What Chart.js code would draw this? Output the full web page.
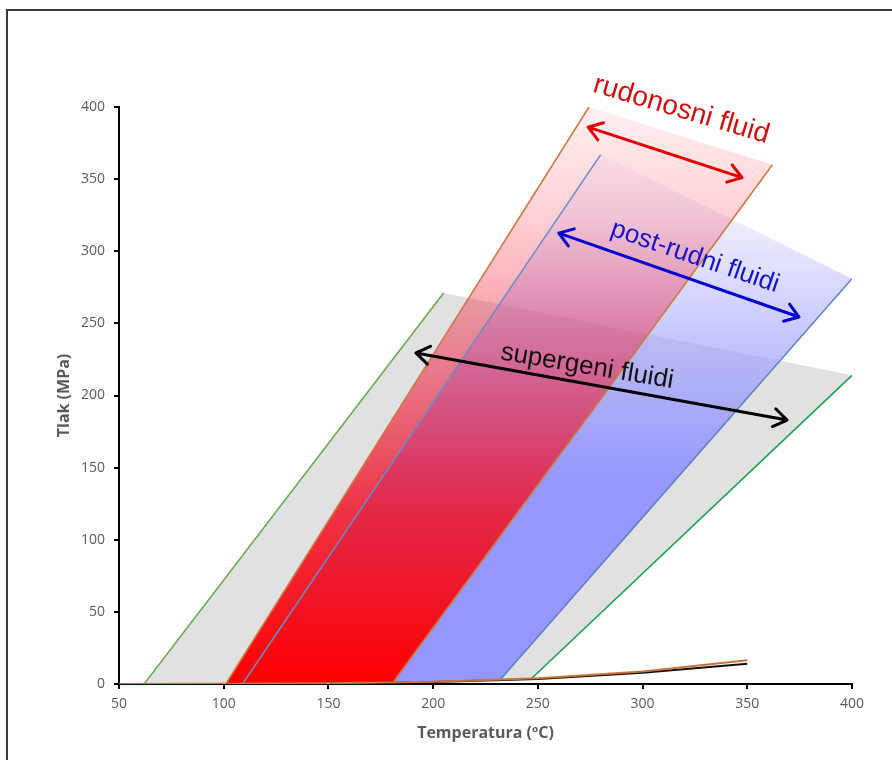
<!DOCTYPE html>
<html>
<head>
<meta charset="utf-8">
<script src="https://cdn.jsdelivr.net/npm/chart.js@4/dist/chart.umd.min.js"></script>
<style>
  body { margin: 0; background: #fff; }
  #wrap { position: relative; width: 892px; height: 760px; overflow: hidden; }
  #frame { position: absolute; left: 6px; top: 9px; width: 950px; height: 800px; border: 2px solid #3a3a3a; box-sizing: border-box; }
  canvas { position: absolute; left: 0; top: 0; }
</style>
</head>
<body>
<div id="wrap">
  <div id="frame"></div>
  <canvas id="myChart" width="892" height="760"></canvas>
</div>
<script>
// krivulja vrenja (voda) i slana otopina
var boilT = [50, 100, 150, 200, 250, 300, 350];
var boilP = [0, 0.1, 0.5, 1.6, 4.0, 8.6, 16.5];
var saltT = [150, 200, 250, 300, 350];
var saltP = [0.3, 1.3, 3.4, 7.8, 14.0];

// izohore (T, P) - donja i gornja tocka
var superLeftT = [62, 205], superLeftP = [0.05, 271];
var superRightT = [247, 400], superRightP = [3.8, 214];
var oreLeftT = [101, 274.4], oreLeftP = [0.1, 400];
var oreRightT = [181, 362], oreRightP = [1.4, 360];
var postLeftT = [109, 280], postLeftP = [0.12, 367];
var postRightT = [232, 400], postRightP = [3.0, 281];

// strelice i natpisi
var arrowRudT = [274, 347.5], arrowRudP = [386, 351];
var arrowPostT = [260, 374.7], arrowPostP = [312.6, 254.4];
var arrowSupT = [191.8, 369], arrowSupP = [229.5, 183];
var labelText = ['rudonosni fluid', 'post-rudni fluidi', 'supergeni fluidi'];
var labelT = [318.5, 325, 273.5];
var labelP = [398, 296, 220];
var labelAngle = [16.5, 19, 9.5];
var labelSize = [28, 26, 26];

function line(T, P) {
    var pts = [];
    for (var i = 0; i < T.length; i++) pts.push({ x: T[i], y: P[i] });
    return pts;
}

// zatvoreni poligon: lijeva izohora gore, desna dolje, natrag po krivulji vrenja
function band(lT, lP, rT, rP) {
    var pts = [{ x: lT[0], y: lP[0] }, { x: lT[1], y: lP[1] }, { x: rT[1], y: rP[1] }, { x: rT[0], y: rP[0] }];
    for (var i = boilT.length - 1; i >= 0; i--) {
        if (boilT[i] < rT[0] && boilT[i] > lT[0]) pts.push({ x: boilT[i], y: boilP[i] });
    }
    return pts;
}

function vGrad(chart, stops) {
    var y = chart.scales.y;
    var g = chart.ctx.createLinearGradient(0, y.getPixelForValue(0), 0, y.getPixelForValue(400));
    stops.forEach(function (s) { g.addColorStop(s[0], s[1]); });
    return g;
}

var arrowPlugin = {
    id: 'arrows',
    afterDatasetsDraw: function (chart) {
        var ctx = chart.ctx, xs = chart.scales.x, ys = chart.scales.y;
        var arrows = [
            [arrowRudT, arrowRudP, '#e00000'],
            [arrowPostT, arrowPostP, '#0000d0'],
            [arrowSupT, arrowSupP, '#000000']
        ];
        ctx.save();
        arrows.forEach(function (a) {
            var x1 = xs.getPixelForValue(a[0][0]), y1 = ys.getPixelForValue(a[1][0]);
            var x2 = xs.getPixelForValue(a[0][1]), y2 = ys.getPixelForValue(a[1][1]);
            var ang = Math.atan2(y2 - y1, x2 - x1);
            ctx.strokeStyle = a[2];
            ctx.lineWidth = 3;
            ctx.lineCap = 'round';
            ctx.lineJoin = 'round';
            ctx.beginPath();
            ctx.moveTo(x1, y1);
            ctx.lineTo(x2, y2);
            var h = 16, w = 0.6;
            ctx.moveTo(x2 - h * Math.cos(ang - w), y2 - h * Math.sin(ang - w));
            ctx.lineTo(x2, y2);
            ctx.lineTo(x2 - h * Math.cos(ang + w), y2 - h * Math.sin(ang + w));
            ctx.moveTo(x1 + h * Math.cos(ang - w), y1 + h * Math.sin(ang - w));
            ctx.lineTo(x1, y1);
            ctx.lineTo(x1 + h * Math.cos(ang + w), y1 + h * Math.sin(ang + w));
            ctx.stroke();
        });
        var colors = ['#d01010', '#1414c8', '#111111'];
        ctx.textAlign = 'center';
        ctx.textBaseline = 'middle';
        for (var i = 0; i < labelText.length; i++) {
            ctx.save();
            ctx.font = labelSize[i] + 'px "Liberation Sans", Arial, sans-serif';
            ctx.translate(xs.getPixelForValue(labelT[i]), ys.getPixelForValue(labelP[i]));
            ctx.rotate(labelAngle[i] * Math.PI / 180);
            ctx.fillStyle = colors[i];
            ctx.fillText(labelText[i], 0, 0);
            ctx.restore();
        }
        ctx.restore();
    }
};

function lineSet(data, color, w) {
    return { data: data, showLine: true, borderColor: color, borderWidth: w || 1.6, pointRadius: 0, fill: false, tension: 0 };
}

function bandSet(data, bg) {
    return { data: data, showLine: true, borderColor: 'transparent', borderWidth: 0, pointRadius: 0, fill: 'shape', backgroundColor: bg, tension: 0 };
}

Chart.defaults.font.family = '"Open Sans", sans-serif';

var ctx = document.getElementById("myChart").getContext('2d');
var myChart = new Chart(ctx, {
    type: 'scatter',
    data: {
        datasets: [
            lineSet(line(boilT, boilP), '#c8743c', 2),
            lineSet(line(saltT, saltP), '#111111', 2),
            lineSet(line(oreLeftT, oreLeftP), '#cc7a40'),
            lineSet(line(oreRightT, oreRightP), '#cc7a40'),
            lineSet(line(postLeftT, postLeftP), '#6a8cc8'),
            lineSet(line(postRightT, postRightP), '#5a80c0'),
            lineSet(line(superLeftT, superLeftP), '#6aaa50'),
            lineSet(line(superRightT, superRightP), '#1aa050'),
            bandSet(band(oreLeftT, oreLeftP, oreRightT, oreRightP), function (c) {
                if (!c.chart.chartArea) return 'rgba(255,0,0,0.5)';
                return vGrad(c.chart, [[0, 'rgba(255,0,0,1)'], [0.3, 'rgba(240,20,40,0.85)'], [0.55, 'rgba(235,40,70,0.55)'], [0.8, 'rgba(250,60,80,0.25)'], [1, 'rgba(255,120,120,0.12)']]);
            }),
            bandSet(band(postLeftT, postLeftP, postRightT, postRightP), function (c) {
                if (!c.chart.chartArea) return 'rgba(150,150,255,0.5)';
                return vGrad(c.chart, [[0, 'rgba(150,150,255,1)'], [0.35, 'rgba(150,150,255,1)'], [0.6, 'rgba(160,160,255,0.6)'], [0.8, 'rgba(180,180,255,0.25)'], [1, 'rgba(200,200,255,0.05)']]);
            }),
            bandSet(band(superLeftT, superLeftP, superRightT, superRightP), '#e1e1e1')
        ]
    },
    options: {
        responsive: false,
        maintainAspectRatio: false,
        animation: false,
        layout: { padding: { left: 48, top: 107, right: 40, bottom: 0 } },
        plugins: { legend: { display: false }, tooltip: { enabled: false } },
        scales: {
            x: {
                type: 'linear', min: 50, max: 400,
                ticks: { stepSize: 50, color: '#595959', font: { size: 14 }, padding: 7 },
                grid: { drawOnChartArea: false, drawTicks: true, tickLength: 5, color: '#000', lineWidth: 2 },
                border: { color: '#000', width: 2 },
                title: { display: true, text: 'Temperatura (ºC)', color: '#595959', font: { size: 16, weight: 'bold' }, padding: { top: 0, bottom: 17 } },
                afterFit: function (s) { s.height = 76; }
            },
            y: {
                type: 'linear', min: 0, max: 400,
                ticks: { stepSize: 50, color: '#595959', font: { size: 14 }, padding: 9 },
                grid: { drawOnChartArea: false, drawTicks: true, tickLength: 5, color: '#000', lineWidth: 2 },
                border: { color: '#000', width: 2 },
                title: { display: true, text: 'Tlak (MPa)', color: '#595959', font: { size: 16, weight: 'bold' }, padding: { top: 7, bottom: 0 } },
                afterFit: function (s) { s.width = 71; }
            }
        }
    },
    plugins: [arrowPlugin]
});
</script>
</body>
</html>
